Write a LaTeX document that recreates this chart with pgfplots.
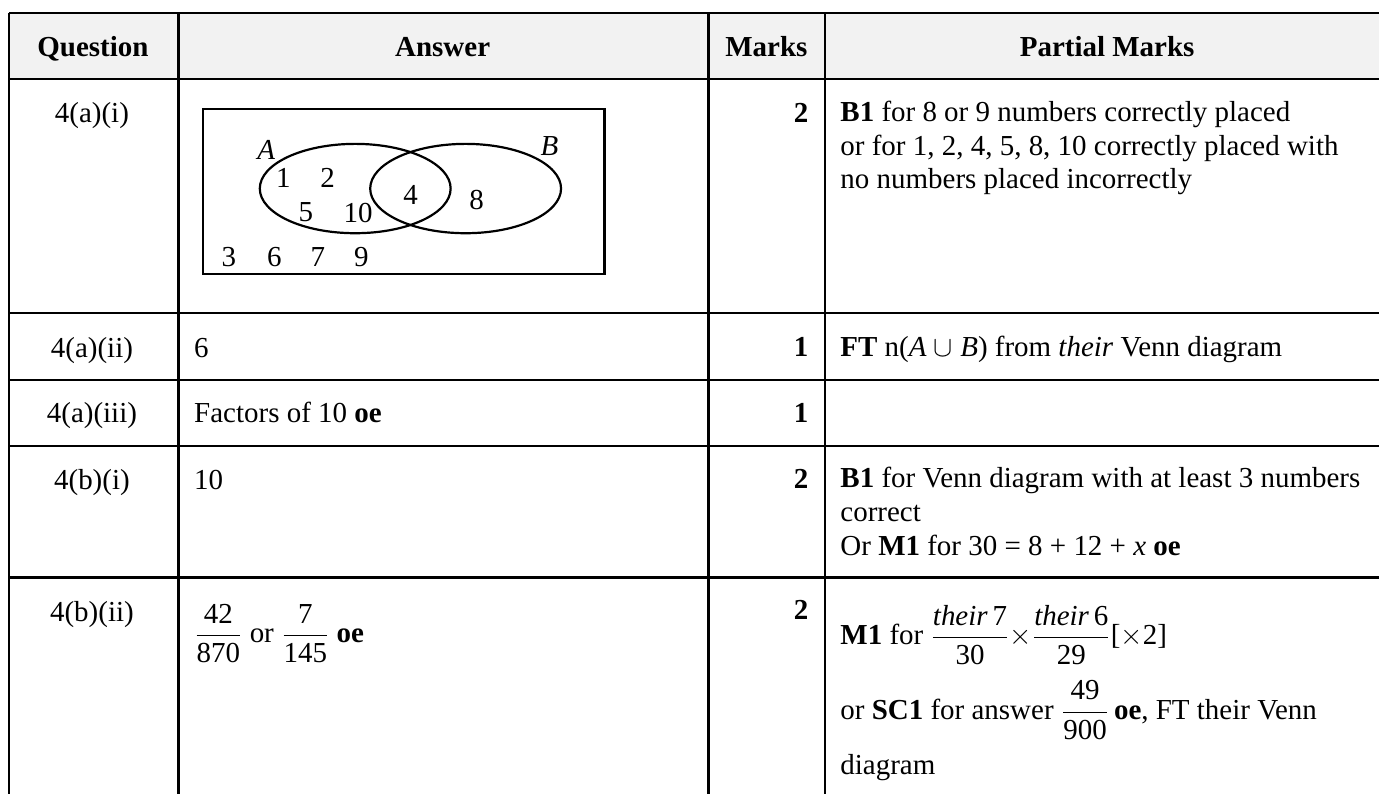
\documentclass[border=0pt]{standalone}
\usepackage{fontspec}
\setmainfont{Liberation Serif}
\usepackage{amsmath}
\usepackage{pgfplots}
\pgfplotsset{compat=1.18}
\definecolor{hdr}{HTML}{F2F2F2}
\newcommand\fs{\fontsize{14.5pt}{16.75pt}\selectfont}
\newcommand\tf[2]{\ensuremath{\displaystyle\frac{\text{#1}}{\text{#2}}}}
\begin{document}
\begin{tikzpicture}
\begin{axis}[width=690pt,height=397.5pt,scale only axis,
  xmin=0,xmax=1380,ymin=0,ymax=795,y dir=reverse,hide axis,clip=false]
\path (axis cs:0,0) rectangle (axis cs:1380,795);
% header background
\fill[hdr] (axis cs:9,13) rectangle (axis cs:1380,79);
% horizontal rules
\draw[line width=1.1pt] (axis cs:9,13) -- (axis cs:1380,13);
\draw[line width=1.1pt] (axis cs:9,79) -- (axis cs:1380,79);
\draw[line width=1.1pt] (axis cs:9,313) -- (axis cs:1380,313);
\draw[line width=1.1pt] (axis cs:9,380) -- (axis cs:1380,380);
\draw[line width=1.1pt] (axis cs:9,446) -- (axis cs:1380,446);
\draw[line width=1.1pt] (axis cs:9,578) -- (axis cs:1380,578);
% vertical rules
\draw[line width=1.1pt] (axis cs:9,13) -- (axis cs:9,795);
\draw[line width=1.1pt] (axis cs:178.6,13) -- (axis cs:178.6,795);
\draw[line width=1.1pt] (axis cs:709,13) -- (axis cs:709,795);
\draw[line width=1.1pt] (axis cs:826,13) -- (axis cs:826,795);
% header text
\node[font=\fs\bfseries,anchor=base,inner sep=0] at (axis cs:93,57) {Question};
\node[font=\fs\bfseries,anchor=base,inner sep=0] at (axis cs:443,57) {Answer};
\node[font=\fs\bfseries,anchor=base,inner sep=0] at (axis cs:767,57) {Marks};
\node[font=\fs\bfseries,anchor=base,inner sep=0] at (axis cs:1108,57) {Partial Marks};
% row 1
\node[font=\fs,anchor=base,inner sep=0] at (axis cs:92,123) {4(a)(i)};
\node[font=\fs\bfseries,anchor=base east,inner sep=0] at (axis cs:809.5,123) {2};
\node[font=\fs,anchor=base west,inner sep=0] at (axis cs:840.7,122) {\textbf{B1} for 8 or 9 numbers correctly placed};
\node[font=\fs,anchor=base west,inner sep=0] at (axis cs:840.7,155.5) {or for 1, 2, 4, 5, 8, 10 correctly placed with};
\node[font=\fs,anchor=base west,inner sep=0] at (axis cs:840.7,189) {no numbers placed incorrectly};
% Venn diagram
\draw[line width=1.1pt] (axis cs:203,109) rectangle (axis cs:605,274);
\draw[line width=1.1pt] (axis cs:355.5,188.7) ellipse [x radius=47.75pt, y radius=22.35pt];
\draw[line width=1.1pt] (axis cs:466,188.7) ellipse [x radius=47.75pt, y radius=22.35pt];
\node[font=\fs\itshape,anchor=base,inner sep=0] at (axis cs:266.5,160) {A};
\node[font=\fs\itshape,anchor=base,inner sep=0] at (axis cs:550,156) {B};
\node[font=\fs,anchor=base,inner sep=0] at (axis cs:283.5,188) {1};
\node[font=\fs,anchor=base,inner sep=0] at (axis cs:328,188) {2};
\node[font=\fs,anchor=base,inner sep=0] at (axis cs:306,221.5) {5};
\node[font=\fs,anchor=base,inner sep=0] at (axis cs:358.5,222.5) {10};
\node[font=\fs,anchor=base,inner sep=0] at (axis cs:411,205) {4};
\node[font=\fs,anchor=base,inner sep=0] at (axis cs:477,210) {8};
\node[font=\fs,anchor=base,inner sep=0] at (axis cs:229,266.5) {3};
\node[font=\fs,anchor=base,inner sep=0] at (axis cs:274.6,266.5) {6};
\node[font=\fs,anchor=base,inner sep=0] at (axis cs:318,266.5) {7};
\node[font=\fs,anchor=base,inner sep=0] at (axis cs:361.6,266.5) {9};
% row 2
\node[font=\fs,anchor=base,inner sep=0] at (axis cs:92,357.5) {4(a)(ii)};
\node[font=\fs,anchor=base west,inner sep=0] at (axis cs:194,357.5) {6};
\node[font=\fs\bfseries,anchor=base east,inner sep=0] at (axis cs:809.5,357) {1};
\node[font=\fs,anchor=base west,inner sep=0] at (axis cs:840.7,357) {\textbf{FT} n(\textit{A} $\cup$ \textit{B}) from \textit{their} Venn diagram};
% row 3
\node[font=\fs,anchor=base,inner sep=0] at (axis cs:92,423) {4(a)(iii)};
\node[font=\fs,anchor=base west,inner sep=0] at (axis cs:194,423) {Factors of 10 \textbf{oe}};
\node[font=\fs\bfseries,anchor=base east,inner sep=0] at (axis cs:809.5,423) {1};
% row 4
\node[font=\fs,anchor=base,inner sep=0] at (axis cs:92,490) {4(b)(i)};
\node[font=\fs,anchor=base west,inner sep=0] at (axis cs:194,490) {10};
\node[font=\fs\bfseries,anchor=base east,inner sep=0] at (axis cs:809.5,489) {2};
\node[font=\fs,anchor=base west,inner sep=0] at (axis cs:840.7,488) {\textbf{B1} for Venn diagram with at least 3 numbers};
\node[font=\fs,anchor=base west,inner sep=0] at (axis cs:840.7,522) {correct};
\node[font=\fs,anchor=base west,inner sep=0] at (axis cs:840.7,556) {Or \textbf{M1} for 30 = 8 + 12 + \textit{x} \textbf{oe}};
% row 5
\node[font=\fs,anchor=base,inner sep=0] at (axis cs:92,622) {4(b)(ii)};
\node[font=\fs,anchor=base west,inner sep=0] at (axis cs:194,643) {\tf{42}{870} or \tf{7}{145} \textbf{oe}};
\node[font=\fs\bfseries,anchor=base east,inner sep=0] at (axis cs:809.5,620) {2};
\node[font=\fs,anchor=base west,inner sep=0] at (axis cs:840.7,645) {\textbf{M1} for \tf{\textit{their}\,7}{30}$\times$\tf{\textit{their}\,6}{29}[$\times$2]};
\node[font=\fs,anchor=base west,inner sep=0] at (axis cs:840.7,720) {or \textbf{SC1} for answer \tf{49}{900}\,\textbf{oe}, FT their Venn};
\node[font=\fs,anchor=base west,inner sep=0] at (axis cs:840.7,775) {diagram};
\end{axis}
\end{tikzpicture}
\end{document}
